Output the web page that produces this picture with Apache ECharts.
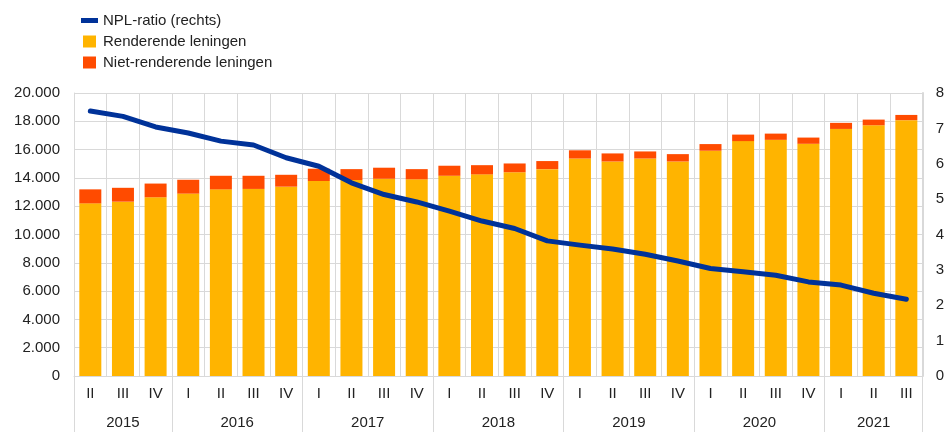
<!DOCTYPE html>
<html>
<head>
<meta charset="utf-8">
<script src="https://cdn.jsdelivr.net/npm/echarts@6/dist/echarts.min.js"></script>
<style>
  html, body { margin: 0; padding: 0; background: #fff; }
  #chart { width: 947px; height: 443px; }
</style>
</head>
<body>
<div id="chart"></div>
<script>
const quarters = ['II', 'III', 'IV',
  'I', 'II', 'III', 'IV',
  'I', 'II', 'III', 'IV',
  'I', 'II', 'III', 'IV',
  'I', 'II', 'III', 'IV',
  'I', 'II', 'III', 'IV',
  'I', 'II', 'III']
const years = ['2015', '2016', '2017', '2018', '2019', '2020', '2021']
const quartersPerYear = [3, 4, 4, 4, 4, 4, 3]

// renderende leningen
const performing = [12200, 12320, 12630, 12890, 13190, 13220, 13380, 13780, 13850, 13940, 13900,
  14150, 14250, 14400, 14620, 15370, 15160, 15370, 15160, 15920, 16600, 16690, 16410,
  17460, 17720, 18080]
// niet-renderende leningen
const nonPerforming = [990, 980, 970, 980, 960, 930, 840, 870, 770, 780, 720,
  710, 650, 620, 570, 580, 570, 500, 520, 470, 460, 440, 440,
  430, 400, 370]
// NPL-ratio (rechts)
const nplRatio = [7.49, 7.34, 7.04, 6.87, 6.64, 6.53, 6.17, 5.93, 5.46, 5.13, 4.92,
  4.66, 4.38, 4.17, 3.82, 3.70, 3.59, 3.44, 3.25, 3.04, 2.95, 2.85, 2.66,
  2.57, 2.34, 2.17]

const leftTicks = { min: 0, max: 20000, interval: 2000 }
const rightTicks = { min: 0, max: 8, interval: 1 }

// year per category, year start indices and centres
const yearOfCategory = []
const yearStarts = {}
const yearCentres = {}
let pos = 0
years.forEach((y, i) => {
  yearStarts[pos] = true
  yearCentres[(pos + quartersPerYear[i] / 2).toFixed(1)] = y
  for (let k = 0; k < quartersPerYear[i]; k++) yearOfCategory.push(y)
  pos += quartersPerYear[i]
})

const GRID = '#d9d9d9'
const TEXT = '#222'
const FONT = 'Liberation Sans, Arial, sans-serif'

const chart = echarts.init(document.getElementById('chart'), null, { renderer: 'canvas' })
chart.setOption({
  animation: false,
  textStyle: { fontFamily: FONT },
  legend: {
    orient: 'vertical',
    left: 76,
    top: 8,
    itemWidth: 17,
    itemHeight: 12,
    itemGap: 6,
    textStyle: { fontSize: 15, color: TEXT, fontFamily: FONT },
    data: [
      { name: 'NPL-ratio (rechts)', icon: 'path://M0,0h17v5h-17z', itemStyle: { color: '#003299', borderWidth: 0 } },
      { name: 'Renderende leningen', icon: 'path://M0,0h13v12h-13z' },
      { name: 'Niet-renderende leningen', icon: 'path://M0,0h13v12h-13z' }
    ]
  },
  grid: { left: 74, right: 24, top: 93, bottom: 67, containLabel: false },
  xAxis: [
    {
      type: 'category',
      data: quarters,
      axisLine: { show: true, lineStyle: { color: GRID, width: 1 } },
      axisTick: { show: false },
      axisLabel: { interval: 0, margin: 10, fontSize: 15, color: TEXT, fontFamily: FONT },
      splitLine: { show: true, interval: 0, lineStyle: { color: GRID, width: 1 } }
    },
    {
      type: 'category',
      data: yearOfCategory,
      position: 'bottom',
      axisLine: { show: false },
      axisTick: {
        show: true,
        length: 56,
        interval: (i) => !!yearStarts[i],
        lineStyle: { color: GRID, width: 1 }
      },
      axisLabel: { show: false },
      splitLine: { show: false }
    },
    {
      type: 'value',
      min: 0,
      max: quarters.length,
      interval: 0.5,
      position: 'bottom',
      axisLine: { show: false },
      axisTick: { show: false },
      splitLine: { show: false },
      axisLabel: {
        margin: 39,
        fontSize: 15,
        color: TEXT,
        fontFamily: FONT,
        showMinLabel: true,
        showMaxLabel: true,
        formatter: (v) => yearCentres[Number(v).toFixed(1)] || ''
      }
    }
  ],
  yAxis: [
    {
      type: 'value',
      min: leftTicks.min,
      max: leftTicks.max,
      interval: leftTicks.interval,
      axisLine: { show: true, lineStyle: { color: GRID } },
      axisTick: { show: false },
      axisLabel: {
        margin: 14, fontSize: 15, color: TEXT, fontFamily: FONT,
        formatter: (v) => String(v).replace(/\B(?=(\d{3})+(?!\d))/g, '.')
      },
      splitLine: { show: true, lineStyle: { color: GRID, width: 1 } }
    },
    {
      type: 'value',
      min: rightTicks.min,
      max: rightTicks.max,
      interval: rightTicks.interval,
      position: 'right',
      axisLine: { show: true, lineStyle: { color: GRID, width: 2 } },
      axisTick: { show: false },
      axisLabel: { margin: 13, fontSize: 15, color: TEXT, fontFamily: FONT },
      splitLine: { show: false }
    }
  ],
  series: [
    {
      name: 'Renderende leningen',
      type: 'bar',
      stack: 'loans',
      barWidth: 22,
      itemStyle: { color: '#ffb400' },
      data: performing
    },
    {
      name: 'Niet-renderende leningen',
      type: 'bar',
      stack: 'loans',
      barWidth: 22,
      itemStyle: { color: '#ff4b00' },
      data: nonPerforming
    },
    {
      name: 'NPL-ratio (rechts)',
      type: 'line',
      yAxisIndex: 1,
      showSymbol: false,
      symbol: 'none',
      lineStyle: { color: '#003299', width: 5, cap: 'round', join: 'round' },
      itemStyle: { color: '#003299' },
      data: nplRatio,
      z: 5
    }
  ]
})
</script>
</body>
</html>
